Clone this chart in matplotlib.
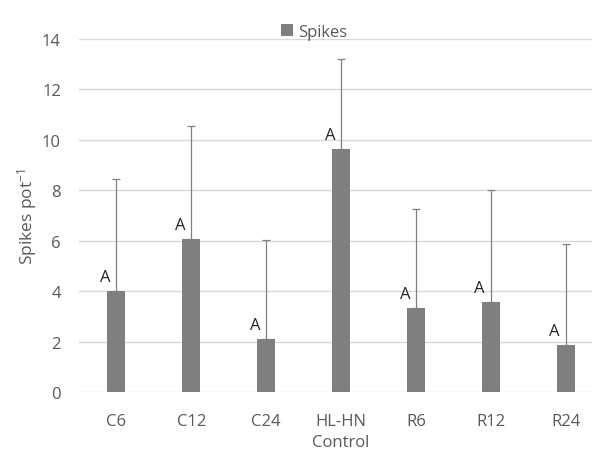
import numpy as np
import matplotlib
matplotlib.use("Agg")
import matplotlib.pyplot as plt

# dati
categorie = ["C6", "C12", "C24", "HL-HN\nControl", "R6", "R12", "R24"]
medie = [4.0, 6.06, 2.1, 9.63, 3.32, 3.56, 1.86]
errori = [4.45, 4.47, 3.93, 3.57, 3.94, 4.44, 3.99]
lettere = ["A", "A", "A", "A", "A", "A", "A"]

plt.rcParams["font.family"] = ["Open Sans", "DejaVu Sans"]
GRIGIO_TESTO = "#595959"

fig = plt.figure(figsize=(5.92, 4.56), dpi=100)
ax = fig.add_axes([79 / 592, 1 - 393 / 456, 513 / 592, 353 / 456])

x = np.arange(len(categorie))
ax.bar(x, medie, width=0.24, color="#7f7f7f", label="Spikes", zorder=3)
ax.errorbar(x, medie, yerr=[np.zeros(len(x)), errori], fmt="none",
            ecolor="#808080", elinewidth=0.9, capsize=3, capthick=0.9, zorder=4)

for xi, m, l in zip(x, medie, lettere):
    ax.text(xi - 0.15, m + 0.25, l, ha="center", va="bottom",
            fontsize=12, color="#262626", zorder=5)

ax.set_xlim(-0.5, 6.35)
ax.set_ylim(0, 14)
ax.set_yticks(np.arange(0, 15, 2))
ax.set_xticks(x)
ax.set_xticklabels(categorie, linespacing=1.45)
ax.grid(axis="y", color="#d9d9d9", linewidth=1, zorder=0)
ax.set_axisbelow(True)
for s in ax.spines.values():
    s.set_visible(False)
ax.tick_params(length=0, labelsize=12, colors=GRIGIO_TESTO)
ax.tick_params(axis="x", pad=15)
ax.tick_params(axis="y", pad=13)
ax.set_ylabel(r"Spikes pot$\mathregular{^{-1}}$", fontsize=12.5, color=GRIGIO_TESTO)
ax.yaxis.set_label_coords(-0.078, 0.5)

fig.legend(loc="upper center", bbox_to_anchor=(314 / 592, 1 - 10 / 456),
           frameon=False, fontsize=12, handlelength=0.7, handleheight=0.7,
           handletextpad=0.3, labelcolor=GRIGIO_TESTO)

fig.savefig("out.png", dpi=100)
